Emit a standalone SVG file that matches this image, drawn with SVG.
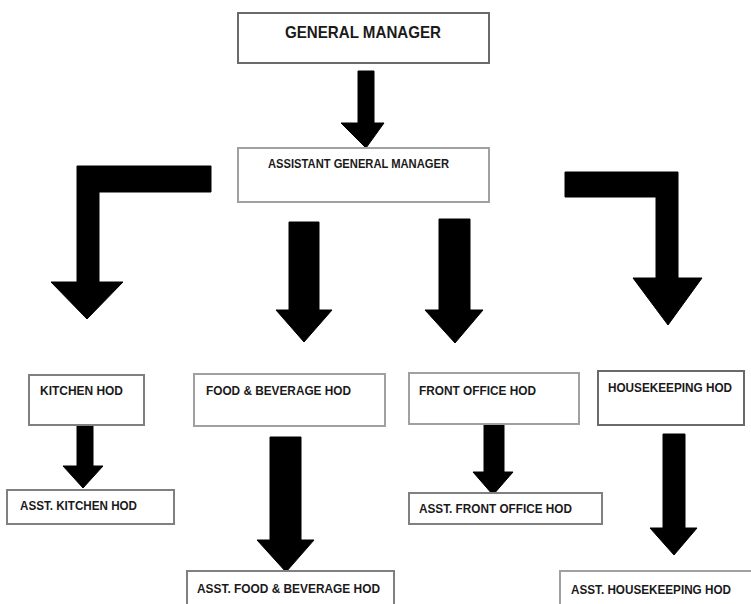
<svg xmlns="http://www.w3.org/2000/svg" width="751" height="604" viewBox="0 0 751 604">
<style>
.box{fill:#fff;stroke:#808080;stroke-width:2}
.lt{stroke:#a0a0a0}
.t{font-family:"Liberation Sans",Arial,sans-serif;font-weight:bold;fill:#1a1a1a;font-size:12.5px}
.arr{fill:#000;stroke:#000;stroke-width:1;stroke-linejoin:round}
</style>
<rect width="751" height="604" fill="#fff"/>
<g id="connectors">
<polygon class="arr" points="358,71 374,71 374,123 384,123 366,148 341,123 358,123"/>
<polygon class="arr" points="77,166 211,166 211,192 99,192 99,282 123,282 87,319 51,282 77,282"/>
<polygon class="arr" points="289,222 319,222 319,310 332,310 304,342 276,310 289,310"/>
<polygon class="arr" points="439,219 470,219 470,310 483,310 455,343 425,310 439,310"/>
<polygon class="arr" points="565,172 678,172 678,278 702,278 668,325 633,278 656,278 656,197 565,197"/>
<polygon class="arr" points="77,425 93,425 93,466 103,466 83,488 63,466 77,466"/>
<polygon class="arr" points="270,437 301,437 301,540 314,540 286,572 257,540 270,540"/>
<polygon class="arr" points="484,424 504,424 504,472 513,472 493,495 473,472 484,472"/>
<polygon class="arr" points="663,434 685,434 685,528 697,528 674,555 650,528 663,528"/>
</g>
<g id="gm"><rect class="box" x="238" y="13" width="251" height="50" style="stroke:#6a6a6a"/><text class="t" x="285" y="38" textLength="156" lengthAdjust="spacingAndGlyphs" style="font-size:16.5px">GENERAL MANAGER</text></g>
<g id="agm"><rect class="box lt" x="238" y="148" width="251" height="54"/><text class="t" x="268" y="168" textLength="181" lengthAdjust="spacingAndGlyphs">ASSISTANT GENERAL MANAGER</text></g>
<g id="kitchen"><rect class="box" x="29" y="375" width="115" height="50"/><text class="t" x="40" y="395" textLength="83" lengthAdjust="spacingAndGlyphs">KITCHEN HOD</text></g>
<g id="asst-kitchen"><rect class="box" x="7" y="490" width="167" height="34"/><text class="t" x="20" y="510" textLength="117" lengthAdjust="spacingAndGlyphs">ASST. KITCHEN HOD</text></g>
<g id="fnb"><rect class="box lt" x="194" y="374" width="191" height="52"/><text class="t" x="206" y="395" textLength="145" lengthAdjust="spacingAndGlyphs">FOOD &amp; BEVERAGE HOD</text></g>
<g id="asst-fnb"><rect class="box" x="187" y="571" width="207" height="40"/><text class="t" x="197" y="593" textLength="183" lengthAdjust="spacingAndGlyphs">ASST. FOOD &amp; BEVERAGE HOD</text></g>
<g id="fo"><rect class="box lt" x="409" y="373" width="170" height="51"/><text class="t" x="419" y="395" textLength="117" lengthAdjust="spacingAndGlyphs">FRONT OFFICE HOD</text></g>
<g id="asst-fo"><rect class="box" x="409" y="493" width="193" height="31"/><text class="t" x="419" y="513" textLength="153" lengthAdjust="spacingAndGlyphs">ASST. FRONT OFFICE HOD</text></g>
<g id="hk"><rect class="box" x="598" y="371" width="146" height="54" style="stroke:#6a6a6a"/><text class="t" x="608" y="392" textLength="124" lengthAdjust="spacingAndGlyphs">HOUSEKEEPING HOD</text></g>
<g id="asst-hk"><rect class="box lt" x="560" y="571" width="195" height="40"/><text class="t" x="571" y="594" textLength="160" lengthAdjust="spacingAndGlyphs">ASST. HOUSEKEEPING HOD</text></g>
</svg>
